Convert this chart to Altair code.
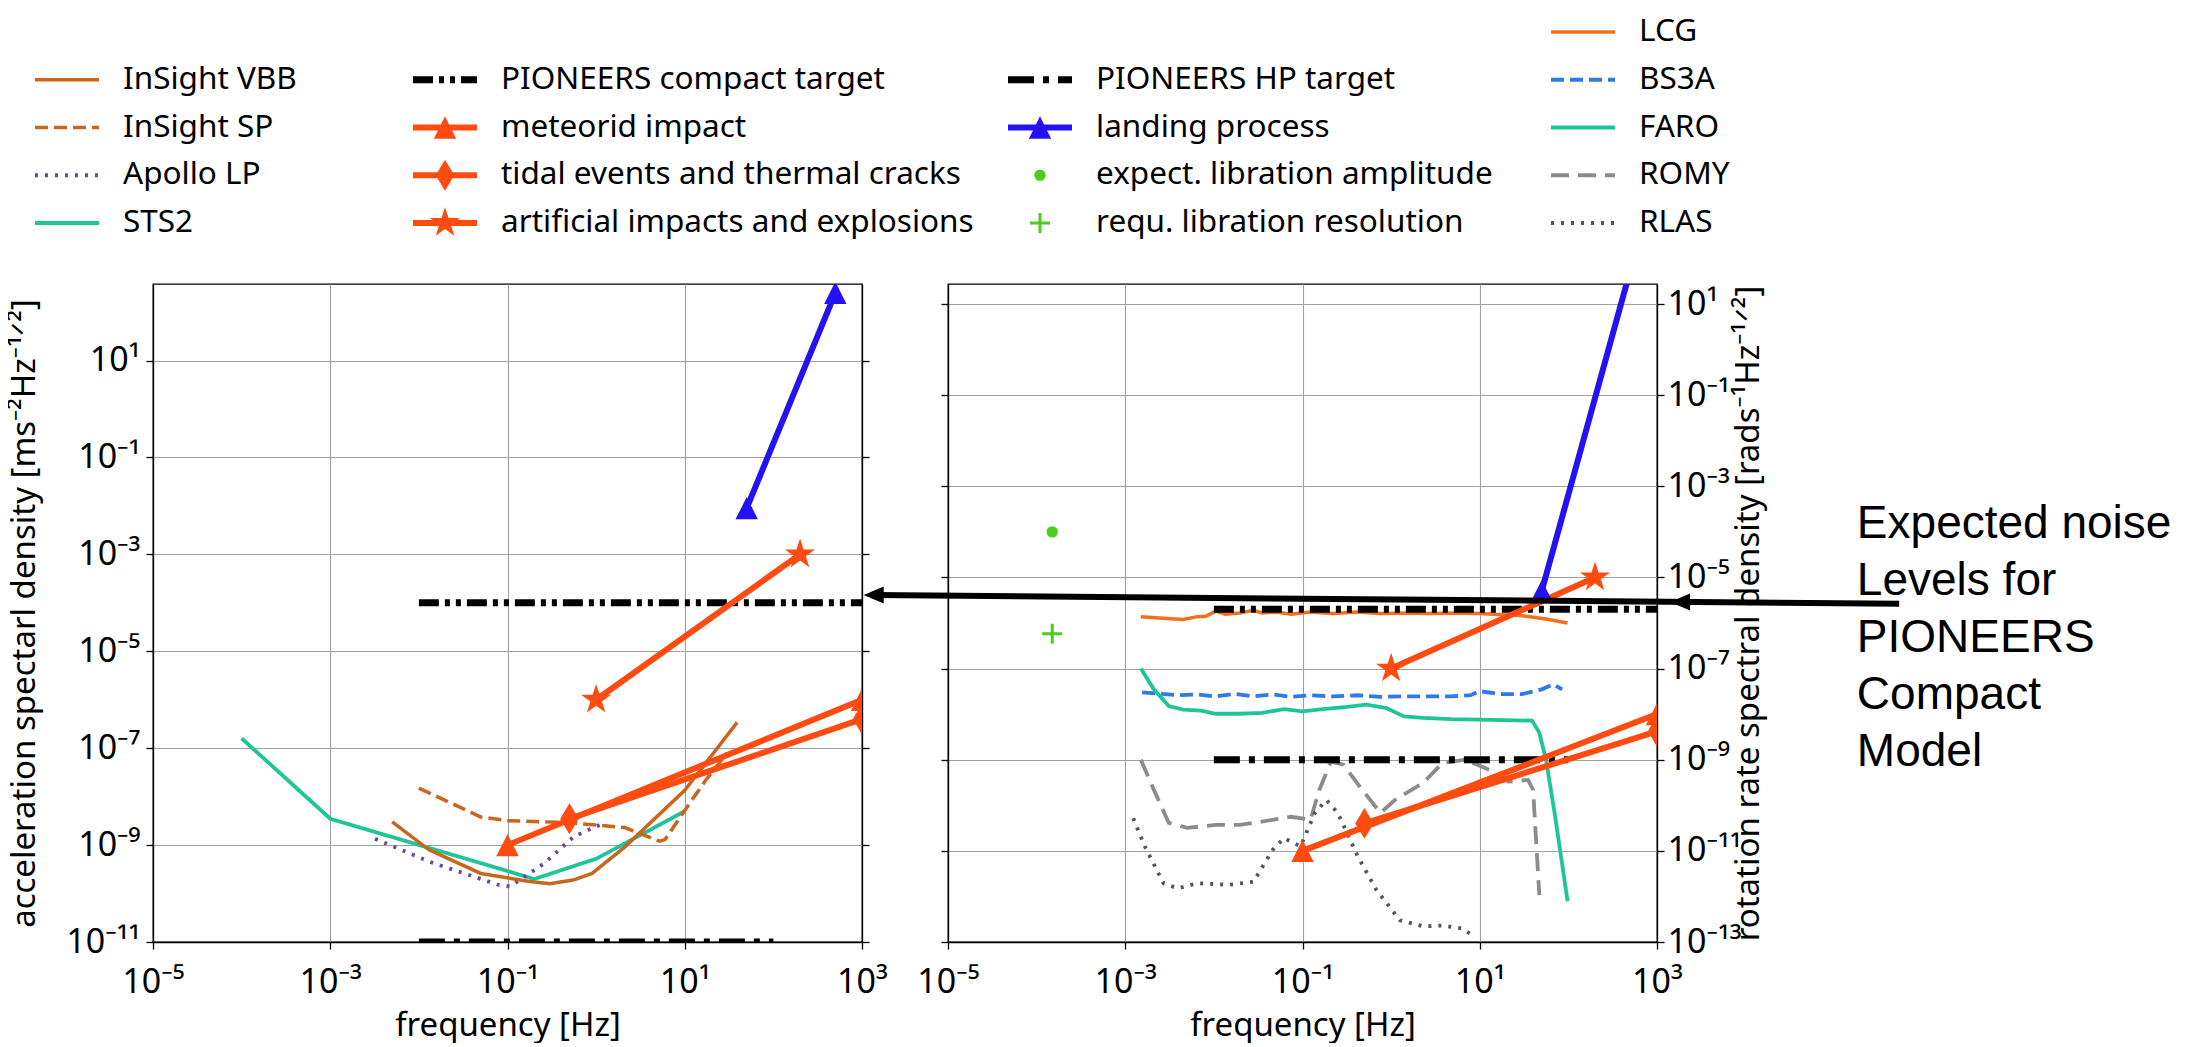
import math
import altair as alt
import pandas as pd

FONT = "Noto Sans"

# ---------------- left panel: acceleration spectral density ----------------
vbb_freq = [0.005, 0.013, 0.05, 0.17, 0.3, 0.55, 0.9, 2.1, 10, 39]
vbb_acc = [3.0e-9, 8.0e-10, 2.6e-10, 1.8e-10, 1.6e-10, 1.9e-10, 2.6e-10, 9.1e-10, 1.35e-8, 3.4e-7]
sp_freq = [0.01, 0.05, 0.1, 0.5, 2.1, 5.2, 6.0, 10, 17, 30]
sp_acc = [1.5e-8, 3.8e-9, 3.2e-9, 2.9e-9, 2.3e-9, 1.2e-9, 1.3e-9, 5.2e-9, 2.1e-8, 8.0e-8]
apollo_freq = [0.0032, 0.0133, 0.08, 0.107, 0.26, 0.56, 1.17]
apollo_acc = [1.35e-9, 4.5e-10, 1.5e-10, 1.4e-10, 4.2e-10, 1.5e-9, 2.75e-9]
sts2_freq = [1e-4, 1e-3, 0.2, 1, 10]
sts2_acc = [1.6e-7, 3.5e-9, 2.0e-10, 5.2e-10, 5.0e-9]
meteor_l_freq = [0.1, 1000]
meteor_l_acc = [1e-9, 1e-6]
tidal_l_freq = [0.5, 1000]
tidal_l_acc = [3.5e-9, 4e-7]
artif_l_freq = [1, 200]
artif_l_acc = [1e-6, 1e-3]
landing_l_freq = [50, 500]
landing_l_acc = [9e-3, 250]
compact_l_freq = [0.01, 1000]
compact_l_acc = [1e-4, 1e-4]
hp_l_freq = [0.01, 100]
hp_l_acc = [1e-11, 1e-11]

# ---------------- right panel: rotation rate spectral density ----------------
lcg_freq = [1.5e-3, 2.4e-3, 4.5e-3, 6.5e-3, 8.1e-3, 0.0105, 0.0135, 0.0195, 0.028, 0.035,
            0.051, 0.074, 0.123, 0.22, 0.42, 0.76, 1.4, 2.6, 4.8, 10, 30, 56, 98]
lcg_rot = [1.38e-6, 1.29e-6, 1.2e-6, 1.38e-6, 1.41e-6, 1.82e-6, 1.55e-6, 1.66e-6, 1.9e-6, 1.66e-6,
           1.74e-6, 1.55e-6, 1.74e-6, 1.62e-6, 1.74e-6, 1.62e-6, 1.66e-6, 1.62e-6, 1.66e-6, 1.62e-6,
           1.45e-6, 1.23e-6, 1.0e-6]
bs3a_freq = [1.55e-3, 2.4e-3, 3.9e-3, 6.5e-3, 0.0105, 0.017, 0.028, 0.046, 0.074, 0.123, 0.22,
             0.42, 0.76, 1.4, 2.6, 4.8, 7.9, 10, 16.6, 30, 50, 68, 85]
bs3a_rot = [3.0e-8, 2.8e-8, 2.6e-8, 2.7e-8, 2.45e-8, 2.8e-8, 2.45e-8, 2.7e-8, 2.4e-8, 2.6e-8, 2.45e-8,
            2.6e-8, 2.4e-8, 2.45e-8, 2.45e-8, 2.45e-8, 2.6e-8, 3.2e-8, 2.75e-8, 2.75e-8, 3.5e-8, 4.5e-8, 3.5e-8]
faro_freq = [1.5e-3, 2.1e-3, 3.1e-3, 4.5e-3, 7.2e-3, 0.0105, 0.0195, 0.035, 0.062, 0.1, 0.17, 0.32,
             0.52, 0.87, 1.4, 2.3, 4.8, 10, 39, 47, 56, 71, 98]
faro_rot = [1.0e-7, 3.5e-8, 1.5e-8, 1.26e-8, 1.2e-8, 1.02e-8, 1.02e-8, 1.07e-8, 1.29e-8, 1.15e-8, 1.29e-8,
            1.45e-8, 1.62e-8, 1.38e-8, 8.9e-9, 8.3e-9, 7.8e-9, 7.6e-9, 7.2e-9, 3.9e-9, 1e-9, 5.6e-11, 7.8e-13]
romy_freq = [1.5e-3, 2.1e-3, 3.1e-3, 5e-3, 0.0105, 0.0195, 0.035, 0.074, 0.123, 0.155, 0.21, 0.29,
             0.47, 0.76, 1.1, 2.3, 3.8, 6.9, 12.9, 21, 35, 40, 47]
romy_rot = [1e-9, 2.2e-10, 4.1e-11, 3.2e-11, 3.7e-11, 3.7e-11, 4.4e-11, 5.6e-11, 4.8e-11, 2.2e-10, 9.1e-10,
            7.8e-10, 2.2e-10, 6.8e-11, 1.3e-10, 3.1e-10, 8.5e-10, 1e-9, 6e-10, 3.3e-10, 3.6e-10, 2.2e-10, 1.07e-12]
rlas_freq = [1.23e-3, 1.66e-3, 2.7e-3, 3.9e-3, 6.5e-3, 0.015, 0.028, 0.046, 0.062, 0.095, 0.138,
             0.186, 0.25, 0.42, 0.68, 1.26, 2.3, 3.8, 6.2, 8.3]
rlas_rot = [5.2e-11, 1.26e-11, 1.95e-12, 1.5e-12, 1.95e-12, 1.8e-12, 2.1e-12, 1.05e-11, 1.9e-11, 1.26e-11,
            6.8e-11, 1.3e-10, 6.8e-11, 7.6e-12, 1.4e-12, 3e-13, 2.2e-13, 2.3e-13, 2e-13, 1.4e-13]
meteor_r_freq = [0.1, 1000]
meteor_r_rot = [1e-11, 1e-8]
tidal_r_freq = [0.5, 1000]
tidal_r_rot = [4e-11, 4.2e-9]
artif_r_freq = [1, 200]
artif_r_rot = [1e-7, 1e-5]
landing_r_freq = [50, 500]
landing_r_rot = [5e-6, 55]
compact_r_freq = [0.01, 1000]
compact_r_rot = [2e-6, 2e-6]
hp_r_freq = [0.01, 100]
hp_r_rot = [1e-9, 1e-9]
libamp_freq = [1.5e-4]
libamp_rot = [1e-4]
libres_freq = [1.5e-4]
libres_rot = [5.8e-7]

# annotation (anchored in right-panel data coordinates)
note_lines = ["Expected noise", "Levels for", "PIONEERS", "Compact", "Model"]
note_freq = [1.8e5]
note_rot = [4.6e-4]
arrow_line_freq = [1.45e-6, 5.4e5]
arrow_line_rot = [4.13e-6, 2.63e-6]
arrow_head_freq = [1.45e-6, 1.82e3]
arrow_head_rot = [4.13e-6, 2.9e-6]

x_ticks = [1e-5, 1e-3, 1e-1, 1e1, 1e3]
y_ticks_left = [1e-11, 1e-9, 1e-7, 1e-5, 1e-3, 1e-1, 1e1]
y_ticks_right = [1e-13, 1e-11, 1e-9, 1e-7, 1e-5, 1e-3, 1e-1, 1e1]

# legend columns
leg_col1 = ["InSight VBB", "InSight SP", "Apollo LP", "STS2"]
leg_col2 = ["PIONEERS compact target", "meteorid impact", "tidal events and thermal cracks",
            "artificial impacts and explosions"]
leg_col3 = ["PIONEERS HP target", "landing process", "expect. libration amplitude",
            "requ. libration resolution"]
leg_col4 = ["LCG", "BS3A", "FARO", "ROMY", "RLAS"]

# ---------------- marker shapes & styles ----------------
TRI = "M0,-1L1,1L-1,1Z"
DIA = "M0,-1L0.6,0L0,1L-0.6,0Z"
PLUS = "M-1,0L1,0M0,-1L0,1"
ARROW = "M-1,0L1,-0.85L1,0.85Z"
_pts = []
for k in range(10):
    a = math.radians(-90 + 36 * k)
    r = 1.0 if k % 2 == 0 else 0.382
    _pts.append(f"{r * math.cos(a):.4f},{r * math.sin(a):.4f}")
STAR = "M" + "L".join(_pts) + "Z"

C_INS = "#c9651d"
C_APO = "#6b46a6"
C_TEAL = "#1ec596"
C_OR = "#ff4b0f"
C_BLUE = "#2412f2"
C_GREEN = "#4ccc1c"
C_LCG = "#f4701f"
C_BS3A = "#2d7ae8"
STYLE = {
    "InSight VBB": {"color": C_INS, "width": 3.5},
    "InSight SP": {"color": C_INS, "width": 3.5, "dash": [13, 6]},
    "Apollo LP": {"color": C_APO, "width": 3.8, "dash": [3, 7]},
    "STS2": {"color": C_TEAL, "width": 3.8},
    "PIONEERS compact target": {"color": "black", "width": 7, "dash": [20, 6, 5, 6, 5, 6]},
    "meteorid impact": {"color": C_OR, "width": 6, "shape": TRI, "size": 500},
    "tidal events and thermal cracks": {"color": C_OR, "width": 6, "shape": DIA, "size": 950},
    "artificial impacts and explosions": {"color": C_OR, "width": 6, "shape": STAR, "size": 1000},
    "PIONEERS HP target": {"color": "black", "width": 7, "dash": [26, 9, 6, 9]},
    "landing process": {"color": C_BLUE, "width": 6, "shape": TRI, "size": 500},
    "expect. libration amplitude": {"color": C_GREEN, "shape": "circle", "size": 130, "noline": True},
    "requ. libration resolution": {"color": C_GREEN, "shape": PLUS, "size": 400, "filled": False,
                                   "mw": 3, "noline": True},
    "LCG": {"color": C_LCG, "width": 3.5},
    "BS3A": {"color": C_BS3A, "width": 3.8, "dash": [13, 6]},
    "FARO": {"color": C_TEAL, "width": 3.8},
    "ROMY": {"color": "#8c8c8c", "width": 3.8, "dash": [18, 9]},
    "RLAS": {"color": "#555555", "width": 3.8, "dash": [3, 7]},
}

SUP = str.maketrans("-0123456789", "\u207b\u2070\u00b9\u00b2\u00b3\u2074\u2075\u2076\u2077\u2078\u2079")


def label_expr(vals):
    parts = []
    for v in vals:
        e = int(round(math.log10(v)))
        parts.append(f"round(log(datum.value)/LN10) == {e} ? '10{str(e).translate(SUP)}'")
    return " : ".join(parts) + " : ''"


AX = dict(domainColor="black", domainWidth=1.3, tickColor="black", tickWidth=1.3, tickSize=7,
          labelFont=FONT, labelFontSize=34, labelColor="black", titleFont=FONT,
          titleFontWeight="normal", titleColor="black", gridColor="#a0a0a0", gridWidth=1.1,
          labelOverlap=False, labelFlush=False)

xs = alt.Scale(type="log", domain=[1e-5, 1e3], nice=False)
ys_left = alt.Scale(type="log", domain=[1e-11, 380], nice=False)
ys_right = alt.Scale(type="log", domain=[1e-13, 27.5], nice=False)

X_AXIS = alt.Axis(values=x_ticks, labelExpr=label_expr(x_ticks), grid=True, title="frequency [Hz]",
                  titleFontSize=33, labelPadding=16, titlePadding=10, **AX)


def enc(ys):
    return dict(x=alt.X("freq:Q", scale=xs, axis=X_AXIS), y=alt.Y("val:Q", scale=ys, axis=None))


def series_layers(series, ys):
    out = []
    for name, f, v in series:
        st = STYLE[name]
        base = alt.Chart(pd.DataFrame({"freq": f, "val": v}))
        if not st.get("noline") and len(f) > 1:
            kw = {"strokeDash": st["dash"]} if "dash" in st else {}
            out.append(base.mark_line(color=st["color"], strokeWidth=st["width"], clip=True,
                                      **kw).encode(**enc(ys)))
        if "shape" in st:
            out.append(base.mark_point(shape=st["shape"], size=st["size"], filled=st.get("filled", True),
                                       color=st["color"], opacity=1, strokeWidth=st.get("mw", 1),
                                       clip=True).encode(**enc(ys)))
    return out


def carriers(df, ys, yleft, yright):
    c1 = alt.Chart(df).mark_point(opacity=0).encode(
        x=alt.X("freq:Q", scale=xs, axis=X_AXIS), y=alt.Y("val:Q", scale=ys, axis=yleft))
    c2 = alt.Chart(df).mark_point(opacity=0).encode(
        x=alt.X("freq:Q", scale=xs, axis=X_AXIS), y=alt.Y("val:Q", scale=ys, axis=yright))
    return [c1, c2]


PANEL_VIEW = alt.ViewBackground(stroke="black", strokeWidth=1.3)

# ---------------- left panel ----------------
left_series = [
    ("STS2", sts2_freq, sts2_acc),
    ("Apollo LP", apollo_freq, apollo_acc),
    ("InSight SP", sp_freq, sp_acc),
    ("InSight VBB", vbb_freq, vbb_acc),
    ("PIONEERS compact target", compact_l_freq, compact_l_acc),
    ("PIONEERS HP target", hp_l_freq, hp_l_acc),
    ("meteorid impact", meteor_l_freq, meteor_l_acc),
    ("tidal events and thermal cracks", tidal_l_freq, tidal_l_acc),
    ("artificial impacts and explosions", artif_l_freq, artif_l_acc),
    ("landing process", landing_l_freq, landing_l_acc),
]
yl_axis = alt.Axis(values=y_ticks_left, labelExpr=label_expr(y_ticks_left), grid=True,
                   title="acceleration spectarl density [ms\u207b\u00b2Hz\u207b\u00b9\u141f\u00b2]",
                   titleFontSize=33, labelPadding=6, titlePadding=24, **AX)
yl_axis_r = alt.Axis(values=y_ticks_left, orient="right", labels=False, grid=False, title=None, **AX)
left = alt.layer(*carriers(pd.DataFrame({"freq": sts2_freq, "val": sts2_acc}), ys_left, yl_axis, yl_axis_r),
                 *series_layers(left_series, ys_left)).resolve_axis(y="independent").properties(
    width=709, height=658, view=PANEL_VIEW)

# ---------------- right panel ----------------
right_series = [
    ("LCG", lcg_freq, lcg_rot),
    ("BS3A", bs3a_freq, bs3a_rot),
    ("FARO", faro_freq, faro_rot),
    ("ROMY", romy_freq, romy_rot),
    ("RLAS", rlas_freq, rlas_rot),
    ("PIONEERS compact target", compact_r_freq, compact_r_rot),
    ("PIONEERS HP target", hp_r_freq, hp_r_rot),
    ("meteorid impact", meteor_r_freq, meteor_r_rot),
    ("tidal events and thermal cracks", tidal_r_freq, tidal_r_rot),
    ("artificial impacts and explosions", artif_r_freq, artif_r_rot),
    ("landing process", landing_r_freq, landing_r_rot),
    ("expect. libration amplitude", libamp_freq, libamp_rot),
    ("requ. libration resolution", libres_freq, libres_rot),
]
yr_axis_l = alt.Axis(values=y_ticks_right, orient="left", labels=False, grid=True, title=None, **AX)
yr_axis_r = alt.Axis(values=y_ticks_right, labelExpr=label_expr(y_ticks_right), orient="right",
                     grid=False, title="rotation rate spectral density [rads\u207b\u00b9Hz\u207b\u00b9\u141f\u00b2]",
                     titleFontSize=33, titleAngle=270, labelPadding=3, titlePadding=24, **AX)

arrow_line = alt.Chart(pd.DataFrame({"freq": arrow_line_freq, "val": arrow_line_rot})).mark_line(
    color="black", strokeWidth=6).encode(**enc(ys_right))
arrow_heads = alt.Chart(pd.DataFrame({"freq": arrow_head_freq, "val": arrow_head_rot})).mark_point(
    shape=ARROW, size=400, filled=True, color="black", opacity=1).encode(**enc(ys_right))
note = alt.Chart(pd.DataFrame({"freq": note_freq, "val": note_rot, "note": ["\n".join(note_lines)]})).mark_text(
    align="left", baseline="top", font="Liberation Sans", fontSize=46, lineHeight=57, lineBreak="\n",
    color="black").encode(text="note:N", **enc(ys_right))

right = alt.layer(*carriers(pd.DataFrame({"freq": lcg_freq, "val": lcg_rot}), ys_right, yr_axis_l, yr_axis_r),
                  *series_layers(right_series, ys_right),
                  arrow_line, arrow_heads, note).resolve_axis(y="independent").properties(
    width=709, height=658, view=PANEL_VIEW)

# ---------------- legend ----------------
leg_rows = []
for c, labels in enumerate([leg_col1, leg_col2, leg_col3, leg_col4], start=1):
    start = 1 if c < 4 else 0
    for r, lab in enumerate(labels, start=start):
        leg_rows.append({"label": lab, "col": c, "row": r})
leg_df = pd.DataFrame(leg_rows)
lx = alt.Scale(domain=[1, 2, 3, 4], range=[-118, 260, 855, 1398])
ly = alt.Scale(domain=[0, 4], range=[24, 215])
lenc = dict(x=alt.X("col:Q", scale=lx, axis=None), y=alt.Y("row:Q", scale=ly, axis=None))
leg_layers = []
for lab in leg_df["label"]:
    st = STYLE[lab]
    b = alt.Chart(leg_df).transform_filter(alt.datum.label == lab)
    if not st.get("noline"):
        kw = {"strokeDash": st["dash"]} if "dash" in st else {}
        leg_layers.append(b.mark_rule(color=st["color"], strokeWidth=st["width"], x2Offset=64, **kw)
                          .encode(x2="col:Q", **lenc))
    if "shape" in st:
        leg_layers.append(b.mark_point(shape=st["shape"], size=st["size"], filled=st.get("filled", True),
                                       color=st["color"], opacity=1, strokeWidth=st.get("mw", 1),
                                       xOffset=32).encode(**lenc))
leg_layers.append(alt.Chart(leg_df).mark_text(align="left", baseline="middle", dx=88, font=FONT,
                                              fontSize=31.5, color="black").encode(text="label:N", **lenc))
legend = alt.layer(*leg_layers).properties(width=1500, height=240,
                                           view=alt.ViewBackground(strokeWidth=0))

chart = alt.vconcat(legend, alt.hconcat(left, right, spacing=86, bounds="flush"),
                    spacing=36, bounds="flush").properties(padding=0).configure_view(strokeWidth=0)

chart.save("out.html", embed_options={"renderer": "svg", "actions": False})
